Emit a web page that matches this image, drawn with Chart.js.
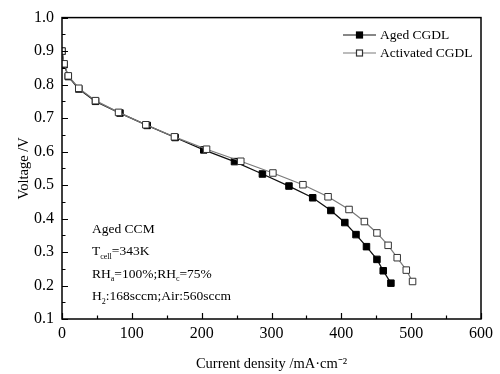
<!DOCTYPE html>
<html>
<head>
<meta charset="utf-8">
<script src="https://cdn.jsdelivr.net/npm/chart.js@4/dist/chart.umd.min.js"></script>
<style>
  html, body { margin: 0; padding: 0; background: #fff; }
  #wrap { width: 500px; height: 374px; }
</style>
</head>
<body>
<div id="wrap"><canvas id="myChart" width="500" height="374"></canvas></div>
<script>
// polarisation curves
const currentAged = [0, 3, 9, 24, 48, 83, 122, 162, 203, 247, 287, 325, 359, 385, 405, 421, 436, 451, 460, 471]
const voltageAged = [0.90, 0.860, 0.824, 0.787, 0.750, 0.715, 0.678, 0.642, 0.605, 0.570, 0.533, 0.497, 0.462, 0.424, 0.388, 0.352, 0.316, 0.278, 0.244, 0.207]
const currentActivated = [0, 3, 9, 24, 48, 81, 120, 161, 207, 256, 302, 345, 381, 411, 433, 451, 467, 480, 493, 502]
const voltageActivated = [0.90, 0.862, 0.826, 0.789, 0.752, 0.717, 0.680, 0.644, 0.607, 0.571, 0.536, 0.501, 0.465, 0.427, 0.391, 0.357, 0.320, 0.283, 0.246, 0.212]
const seriesNames = ['Aged CGDL', 'Activated CGDL']
const xTicks = [0, 100, 200, 300, 400, 500, 600]
const yTicks = [0.1, 0.2, 0.3, 0.4, 0.5, 0.6, 0.7, 0.8, 0.9, 1.0]
const noteLines = [
  [['Aged CCM', false]],
  [['T', false], ['cell', true], ['=343K', false]],
  [['RH', false], ['a', true], ['=100%;RH', false], ['c', true], ['=75%', false]],
  [['H', false], ['2', true], [':168sccm;Air:560sccm', false]]
]

const serif = '"Liberation Serif", "Times New Roman", serif'
const toPoints = (xs, ys) => xs.map((x, i) => ({ x: x, y: ys[i] }))

// frame, inward ticks, legend and the condition notes
const decorations = {
  id: 'decorations',
  afterDraw(chart) {
    const ctx = chart.ctx
    const area = chart.chartArea
    const xs = chart.scales.x
    const ys = chart.scales.y
    ctx.save()
    ctx.strokeStyle = '#000'
    ctx.lineWidth = 1.5
    ctx.strokeRect(area.left, area.top, area.right - area.left, area.bottom - area.top)

    ctx.lineWidth = 1.2
    ctx.beginPath()
    for (let v = 0; v <= 600; v += 50) {
      const px = Math.round(xs.getPixelForValue(v)) + 0.5
      const len = v % 100 === 0 ? 6 : 3.5
      ctx.moveTo(px, area.bottom)
      ctx.lineTo(px, area.bottom - len)
    }
    for (let i = 2; i <= 20; i++) {
      const py = Math.round(ys.getPixelForValue(i * 0.05)) + 0.5
      const len = i % 2 === 0 ? 6 : 3.5
      ctx.moveTo(area.left, py)
      ctx.lineTo(area.left + len, py)
    }
    ctx.stroke()

    // legend
    ctx.font = '13.5px ' + serif
    ctx.textBaseline = 'middle'
    ctx.fillStyle = '#000'
    chart.data.datasets.slice().sort((a, b) => a.legendIndex - b.legendIndex).forEach((ds, i) => {
      const y = 35 + i * 18
      const x0 = 343, x1 = 376, mx = 359.5
      ctx.strokeStyle = ds.borderColor
      ctx.lineWidth = 1.2
      ctx.beginPath()
      ctx.moveTo(x0, y)
      ctx.lineTo(x1, y)
      ctx.stroke()
      ctx.fillStyle = ds.pointBackgroundColor
      ctx.strokeStyle = ds.pointBorderColor
      ctx.fillRect(mx - 3, y - 3, 6, 6)
      ctx.strokeRect(mx - 3, y - 3, 6, 6)
      ctx.fillStyle = '#000'
      ctx.fillText(ds.label, 380, y)
    })

    // condition notes with subscripts
    let y = 229
    noteLines.forEach(parts => {
      let x = 92
      parts.forEach(([txt, sub]) => {
        ctx.font = (sub ? '8px ' : '13.5px ') + serif
        ctx.fillText(txt, x, sub ? y + 5 : y)
        x += ctx.measureText(txt).width
      })
      y += 22.5
    })
    ctx.restore()
  }
}

const chart = new Chart(document.querySelector('#myChart'), {
  type: 'scatter',
  data: {
    datasets: [
      {
        label: seriesNames[1],
        legendIndex: 1,
        data: toPoints(currentActivated, voltageActivated),
        showLine: true,
        borderColor: '#7a7a7a',
        borderWidth: 1.2,
        pointStyle: 'rect',
        pointRadius: 4.6,
        pointBackgroundColor: '#fff',
        pointBorderColor: '#333',
        pointBorderWidth: 1,
        order: 0
      },
      {
        label: seriesNames[0],
        legendIndex: 0,
        data: toPoints(currentAged, voltageAged),
        showLine: true,
        borderColor: '#111',
        borderWidth: 1.3,
        pointStyle: 'rect',
        pointRadius: 4.6,
        pointBackgroundColor: '#000',
        pointBorderColor: '#000',
        pointBorderWidth: 1,
        order: 1
      }
    ]
  },
  options: {
    responsive: false,
    animation: false,
    layout: { padding: { left: 0, top: 13, right: 19, bottom: 0 } },
    plugins: {
      legend: { display: false },
      tooltip: { enabled: false }
    },
    scales: {
      x: {
        type: 'linear',
        min: 0,
        max: 600,
        afterFit: s => { s.height = 55 },
        afterBuildTicks: s => { s.ticks = xTicks.map(v => ({ value: v })) },
        grid: { display: false, drawTicks: false },
        border: { display: false },
        ticks: {
          padding: 5,
          color: '#000',
          maxRotation: 0,
          font: { family: serif, size: 16 },
          callback: v => String(v)
        },
        title: {
          display: true,
          text: 'Current density /mA·cm⁻²',
          color: '#000',
          font: { family: serif, size: 14.5 },
          padding: { top: 0, bottom: 1 }
        }
      },
      y: {
        type: 'linear',
        min: 0.1,
        max: 1.0,
        afterFit: s => { s.width = 62 },
        afterBuildTicks: s => { s.ticks = yTicks.map(v => ({ value: v })) },
        grid: { display: false, drawTicks: false },
        border: { display: false },
        ticks: {
          padding: 8,
          color: '#000',
          font: { family: serif, size: 16 },
          callback: v => Number(v).toFixed(1)
        },
        title: {
          display: true,
          text: 'Voltage /V',
          color: '#000',
          font: { family: serif, size: 14.5 },
          padding: { top: 15, bottom: 0 }
        }
      }
    }
  },
  plugins: [decorations]
})
</script>
</body>
</html>
